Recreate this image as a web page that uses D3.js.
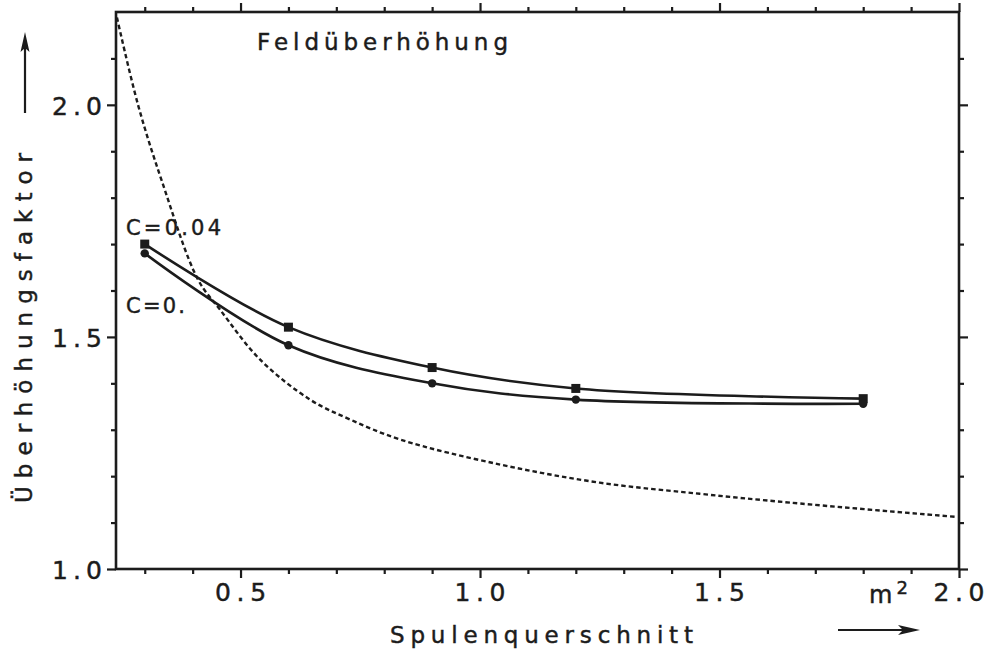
<!DOCTYPE html>
<html>
<head>
<meta charset="utf-8">
<script src="https://cdn.jsdelivr.net/npm/d3@7"></script>
<style>
  html, body { margin: 0; padding: 0; background: #fff; }
  svg { display: block; }
  text { font-family: "DejaVu Sans", "Liberation Sans", sans-serif; fill: #1c1c1c; stroke: #1c1c1c; stroke-width: 0.45px; }
</style>
</head>
<body>
<svg id="chart" width="985" height="655"></svg>
<script>
// Coil cross-section (m²) at which the field enhancement was computed
const crossSections = [0.3, 0.6, 0.9, 1.2, 1.8];
// Enhancement factor for C = 0.04 (square markers)
const factorC004 = [1.700, 1.521, 1.434, 1.389, 1.367];
// Enhancement factor for C = 0 (round markers)
const factorC0 = [1.680, 1.482, 1.400, 1.365, 1.356];
// Reference curve (dashed)
const refX = [0.242, 0.286, 0.336, 0.411, 0.457, 0.541, 0.645, 0.729, 0.833, 1.042, 1.250, 1.459, 1.647, 1.996];
const refY = [2.188, 2.000, 1.835, 1.624, 1.559, 1.451, 1.365, 1.322, 1.279, 1.225, 1.186, 1.162, 1.143, 1.112];

// Tick positions and labels
const xMajorTicks = [0.5, 1.0, 1.5, 2.0];
const xMinorTicks = [0.3, 0.4, 0.6, 0.7, 0.8, 0.9, 1.1, 1.2, 1.3, 1.4, 1.6, 1.7, 1.8, 1.9];
const yMajorTicks = [1.0, 1.5, 2.0];
const yMinorTicks = [1.1, 1.2, 1.3, 1.4, 1.6, 1.7, 1.8, 1.9, 2.1];

const svg = d3.select("#chart");
const ink = "#1c1c1c";

const x = d3.scaleLinear().domain([0.24, 2.0]).range([116, 959]);
const y = d3.scaleLinear().domain([1.0, 2.2]).range([569, 12]);

const fmt = d3.format(".1f");

// Frame axes: all ticks point outward
function drawAxis(axisFn, scale, transform, ticks, size, labels) {
  const g = svg.append("g")
    .attr("transform", transform)
    .call(axisFn(scale).tickValues(ticks).tickSize(size).tickSizeOuter(0)
      .tickFormat(labels ? fmt : () => ""));
  g.select(".domain").remove();
  g.selectAll(".tick line").attr("stroke", ink).attr("stroke-width", 2.2);
  return g;
}

// minor ticks
drawAxis(d3.axisBottom, x, "translate(0,569)", xMinorTicks, 5, false);
drawAxis(d3.axisTop, x, "translate(0,12)", xMinorTicks, 5, false);
drawAxis(d3.axisLeft, y, "translate(116,0)", yMinorTicks, 5, false);
drawAxis(d3.axisRight, y, "translate(959,0)", yMinorTicks, 5, false);

// major ticks with labels on bottom and left
const gxb = drawAxis(d3.axisBottom, x, "translate(0,569)", xMajorTicks, 9, true);
gxb.selectAll(".tick text")
  .attr("y", 0).attr("dy", 0)
  .attr("x", d => d === 2.0 ? -26 : -26)
  .attr("text-anchor", "start")
  .attr("transform", "translate(0,32)")
  .attr("textLength", 51).attr("lengthAdjust", "spacing")
  .style("font-size", "25px").attr("fill", ink);
drawAxis(d3.axisTop, x, "translate(0,12)", xMajorTicks, 9, false);

const gyl = drawAxis(d3.axisLeft, y, "translate(116,0)", yMajorTicks, 9, true);
gyl.selectAll(".tick text")
  .attr("x", -64).attr("dy", "0.37em")
  .attr("text-anchor", "start")
  .attr("textLength", 50).attr("lengthAdjust", "spacing")
  .style("font-size", "25px").attr("fill", ink);
drawAxis(d3.axisRight, y, "translate(959,0)", yMajorTicks, 9, false);

// plot frame
svg.append("rect")
  .attr("x", x(0.24)).attr("y", y(2.2))
  .attr("width", x(2.0) - x(0.24)).attr("height", y(1.0) - y(2.2))
  .attr("fill", "none").attr("stroke", ink).attr("stroke-width", 2.6);

// dashed reference curve
const refPts = refX.map((v, i) => [v, refY[i]]);
svg.append("path")
  .datum(refPts)
  .attr("d", d3.line().x(d => x(d[0])).y(d => y(d[1])).curve(d3.curveCatmullRom.alpha(0.5)))
  .attr("fill", "none").attr("stroke", ink).attr("stroke-width", 2.4)
  .attr("stroke-dasharray", "4.5,3");

// measured series
const line = d3.line().x(d => x(d[0])).y(d => y(d[1])).curve(d3.curveCatmullRom.alpha(0.5));
const s004 = crossSections.map((v, i) => [v, factorC004[i]]);
const s0 = crossSections.map((v, i) => [v, factorC0[i]]);

[s004, s0].forEach(s => {
  svg.append("path").datum(s).attr("d", line)
    .attr("fill", "none").attr("stroke", ink).attr("stroke-width", 2.6);
});

svg.append("g").selectAll("rect").data(s004).join("rect")
  .attr("x", d => x(d[0]) - 4.5).attr("y", d => y(d[1]) - 4.5)
  .attr("width", 9).attr("height", 9).attr("fill", ink);
svg.append("g").selectAll("circle").data(s0).join("circle")
  .attr("cx", d => x(d[0])).attr("cy", d => y(d[1])).attr("r", 4.2).attr("fill", ink);

// texts
svg.append("text").attr("x", 257).attr("y", 50)
  .attr("textLength", 251).attr("lengthAdjust", "spacing")
  .style("font-size", "23px").text("Feldüberhöhung");

svg.append("text").attr("x", 126).attr("y", 235)
  .attr("textLength", 95).attr("lengthAdjust", "spacing")
  .style("font-size", "21px").text("C=0.04");
svg.append("text").attr("x", 126).attr("y", 313)
  .attr("textLength", 59).attr("lengthAdjust", "spacing")
  .style("font-size", "21px").text("C=0.");

// x axis title and unit
svg.append("text").attr("x", 390).attr("y", 643)
  .attr("textLength", 303).attr("lengthAdjust", "spacing")
  .style("font-size", "23px").text("Spulenquerschnitt");
const unit = svg.append("text").attr("x", 869).attr("y", 603).style("font-size", "24px");
unit.append("tspan").text("m");
unit.append("tspan").attr("dx", 4).attr("dy", -9).style("font-size", "18px").text("2");

// y axis title
svg.append("text")
  .attr("transform", "translate(32,328) rotate(-90)")
  .attr("text-anchor", "middle")
  .attr("textLength", 350).attr("lengthAdjust", "spacing")
  .style("font-size", "23px").text("Überhöhungsfaktor");

// direction arrows
svg.append("line").attr("x1", 25).attr("y1", 113).attr("x2", 25).attr("y2", 44)
  .attr("stroke", ink).attr("stroke-width", 2.2);
svg.append("path").attr("d", "M25,32 L29.5,52 L25,48 L20.5,52 Z").attr("fill", ink);

svg.append("line").attr("x1", 838).attr("y1", 630).attr("x2", 908).attr("y2", 630)
  .attr("stroke", ink).attr("stroke-width", 2.2);
svg.append("path").attr("d", "M920,630 L898,625 L903,630 L898,635 Z").attr("fill", ink);
</script>
</body>
</html>
